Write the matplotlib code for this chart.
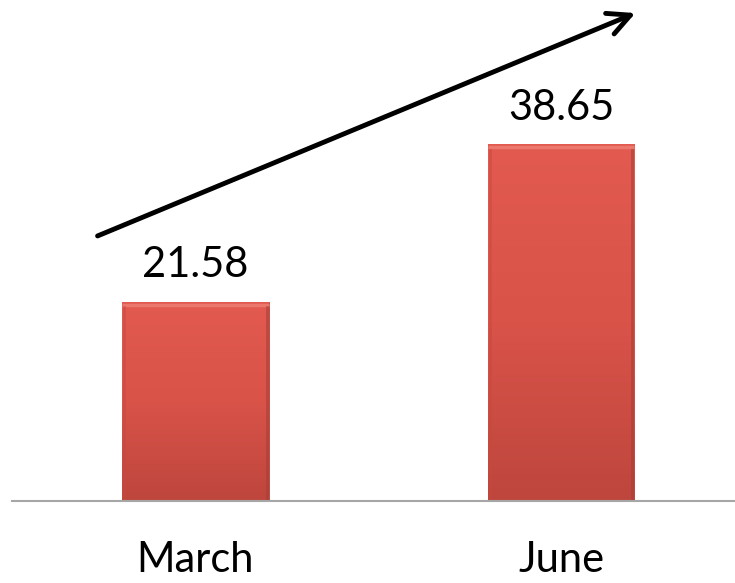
import numpy as np
import matplotlib
matplotlib.use("Agg")
import matplotlib.pyplot as plt
from matplotlib.colors import LinearSegmentedColormap

months = ["March", "June"]
values = [21.58, 38.65]

plt.rcParams['font.family'] = ['Lato', 'DejaVu Sans']

fig = plt.figure(figsize=(7.35, 5.83), dpi=100)
ax = fig.add_axes([12 / 735, 82 / 583, 723 / 735, 501 / 583])

x = np.arange(len(months))
bars = ax.bar(x, values, width=0.402, color="#D4514A", edgecolor="#B0403A", linewidth=0.6, zorder=2)

# degradado vertical en cada barra
cmap = LinearSegmentedColormap.from_list("rojo", ["#BE463D", "#D95349", "#E25A50"])
grad = np.linspace(0, 1, 256).reshape(-1, 1)
for b in bars:
    x0, w, h = b.get_x(), b.get_width(), b.get_height()
    im = ax.imshow(grad, cmap=cmap, aspect="auto", origin="lower",
                   extent=[x0, x0 + w, 0, h], zorder=3)
    im.set_clip_path(b)
    # bisel superior y lateral
    ax.plot([x0, x0 + w], [h - 0.3, h - 0.3], color="#EC776D", lw=2.5, zorder=4, solid_capstyle="butt")
    ax.plot([x0 + w - 0.006, x0 + w - 0.006], [0, h - 0.6], color="#A93D35", lw=2, alpha=0.6, zorder=4)
    ax.plot([x0 + 0.006, x0 + 0.006], [0, h - 0.6], color="#C5493F", lw=2, alpha=0.5, zorder=4)
    ax.text(x0 + w / 2, h + 1.9, f"{h:.2f}", ha="center", va="bottom", fontsize=30, color="black")

ax.set_xlim(-0.502, 1.476)
ax.set_ylim(0, 54.3)
ax.set_xticks(x)
ax.set_xticklabels(months, fontsize=30)
ax.tick_params(axis="x", length=0, pad=29)
ax.set_yticks([])
for s in ["top", "right", "left"]:
    ax.spines[s].set_visible(False)
ax.spines["bottom"].set_color("#A6A6A6")
ax.spines["bottom"].set_linewidth(1.5)
ax.spines["bottom"].set_zorder(5)

# flecha de tendencia
fig.patches.append(matplotlib.patches.FancyArrowPatch(
    (95, 346), (638, 571), transform=None, arrowstyle="->,head_length=16,head_width=8",
    lw=3.5, color="black", mutation_scale=1))

fig.savefig("out.png", dpi=100)
